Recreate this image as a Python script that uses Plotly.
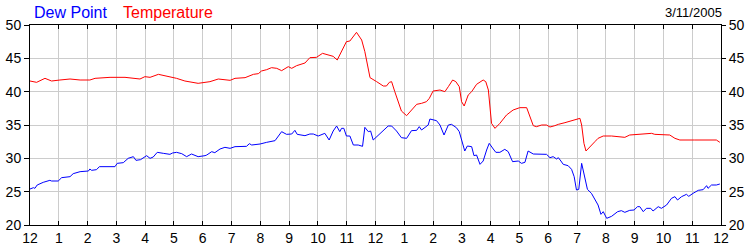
import plotly.graph_objects as go

tick_hours = list(range(25))
tick_labels = ["12", "1", "2", "3", "4", "5", "6", "7", "8", "9", "10", "11",
               "12", "1", "2", "3", "4", "5", "6", "7", "8", "9", "10", "11", "12"]

temp_hours = [0.00, 0.23, 0.52, 0.75, 1.04, 1.39, 1.74, 2.08, 2.26, 2.78, 3.30, 3.70, 3.82, 3.99,
              4.17, 4.46, 4.75, 5.09, 5.38, 5.84, 6.25, 6.54, 6.95, 7.12, 7.47, 7.76, 7.93, 8.04,
              8.22, 8.39, 8.57, 8.74, 8.97, 9.09, 9.26, 9.55, 9.72, 9.95, 10.16, 10.36, 10.53,
              10.67, 10.82, 10.99, 11.11, 11.34, 11.52, 11.63, 11.81, 11.92, 12.04, 12.27, 12.38,
              12.48, 12.56, 12.67, 12.79, 12.90, 13.08, 13.25, 13.43, 13.60, 13.77, 13.87, 14.00,
              14.24, 14.41, 14.53, 14.68, 14.79, 14.91, 14.99, 15.08, 15.22, 15.34, 15.51, 15.74,
              15.83, 15.92, 16.03, 16.15, 16.32, 16.55, 16.78, 17.01, 17.25, 17.36, 17.48, 17.59,
              17.77, 17.94, 18.06, 18.23, 18.35, 18.58, 18.81, 19.04, 19.10, 19.16, 19.24, 19.31,
              19.44, 19.62, 19.73, 19.91, 20.20, 20.43, 20.66, 20.83, 21.06, 21.35, 21.59, 21.70,
              21.93, 22.22, 22.40, 22.57, 23.09, 23.67, 23.84, 23.96]
temp_values = [41.6, 41.4, 42.0, 41.6, 41.75, 41.9, 41.75, 41.75, 42.0, 42.15, 42.15, 41.9, 41.9, 42.25,
               42.15, 42.6, 42.35, 42.0, 41.6, 41.25, 41.5, 41.9, 41.7, 42.0, 42.1, 42.6, 42.7, 43.1,
               43.3, 43.6, 43.5, 43.15, 43.75, 43.5, 43.9, 44.3, 45.1, 45.15, 45.75, 45.5, 45.3,
               44.75, 46.0, 47.5, 47.6, 48.9, 47.75, 46.0, 42.1, 41.85, 41.5, 40.85, 40.85,
               41.4, 41.5, 40.0, 38.6, 37.1, 36.4, 37.25, 38.1, 38.25, 38.5, 39.0, 40.1,
               40.25, 40.0, 40.75, 41.75, 41.5, 40.75, 38.5, 37.85, 39.5, 40.0, 41.1, 41.75,
               41.5, 40.25, 35.25, 34.5, 35.25, 36.5, 37.25, 37.6, 37.6, 36.25, 34.9, 34.75,
               35.0, 35.0, 34.7, 34.9, 35.1, 35.35, 35.6, 35.85, 36.0, 35.0, 32.25, 31.1,
               31.75, 32.5, 33.0, 33.35, 33.35, 33.25, 33.15, 33.5, 33.6, 33.75, 33.75, 33.6,
               33.6, 33.5, 33.0, 32.75, 32.75, 32.75, 32.75, 32.4]

dew_hours = [0.00, 0.12, 0.17, 0.25, 0.46, 0.69, 0.75, 0.98, 1.10, 1.39, 1.50, 1.74, 2.03, 2.08,
             2.14, 2.31, 2.41, 2.95, 3.03, 3.24, 3.41, 3.59, 3.68, 3.84, 4.05, 4.17, 4.28, 4.42,
             4.63, 4.86, 4.95, 5.09, 5.27, 5.44, 5.61, 5.84, 6.08, 6.14, 6.31, 6.42, 6.60, 6.77,
             6.95, 7.12, 7.52, 7.62, 7.70, 7.99, 8.22, 8.51, 8.74, 8.91, 9.09, 9.20, 9.28, 9.55,
             9.72, 9.84, 10.01, 10.24, 10.39, 10.53, 10.65, 10.76, 10.82, 10.90, 10.99, 11.11,
             11.23, 11.40, 11.55, 11.63, 11.75, 11.83, 11.92, 12.10, 12.27, 12.44, 12.56, 12.73,
             12.90, 13.08, 13.25, 13.43, 13.52, 13.60, 13.83, 13.89, 14.12, 14.24, 14.38, 14.53,
             14.64, 14.81, 14.91, 15.02, 15.10, 15.19, 15.34, 15.42, 15.51, 15.63, 15.74, 15.86,
             15.95, 16.09, 16.18, 16.32, 16.49, 16.61, 16.76, 16.96, 17.07, 17.19, 17.30, 17.48,
             17.71, 17.94, 18.06, 18.17, 18.29, 18.35, 18.44, 18.52, 18.69, 18.81, 18.90, 18.98,
             19.06, 19.16, 19.25, 19.36, 19.50, 19.62, 19.73, 19.83, 19.91, 20.03, 20.20, 20.41,
             20.54, 20.66, 20.83, 20.98, 21.10, 21.18, 21.30, 21.41, 21.56, 21.64, 21.82, 21.93,
             22.11, 22.28, 22.40, 22.49, 22.63, 22.80, 22.88, 23.03, 23.21, 23.38, 23.50, 23.55,
             23.67, 23.84, 23.96]
dew_values = [25.4, 25.6, 25.5, 26.0, 26.4, 26.7, 26.6, 26.6, 27.1, 27.25, 27.7, 28.0, 28.1, 28.4,
              28.2, 28.3, 28.75, 28.75, 29.25, 29.35, 30.0, 30.25, 29.7, 29.8, 30.4, 30.0, 30.2, 30.9,
              30.75, 30.6, 30.8, 30.9, 30.7, 30.25, 30.65, 30.25, 30.4, 30.5, 31.0, 30.85, 31.4, 31.65,
              31.5, 31.75, 31.8, 32.2, 32.0, 32.15, 32.4, 32.65, 34.0, 33.6, 33.65, 34.2, 33.6, 33.4,
              33.65, 33.65, 33.35, 33.75, 32.75, 34.1, 34.85, 34.0, 34.5, 34.5, 33.35, 33.35,
              32.0, 32.0, 31.8, 34.65, 34.0, 34.1, 32.75, 33.5, 34.1, 34.85, 34.85, 34.1,
              33.1, 33.0, 34.15, 34.2, 34.75, 34.25, 35.0, 35.9, 35.65, 35.0, 33.5, 35.0,
              35.1, 34.6, 34.0, 32.25, 31.1, 31.85, 31.75, 30.4, 30.5, 29.1, 29.6, 31.25,
              32.25, 31.4, 30.9, 30.9, 31.35, 31.0, 29.5, 29.6, 29.25, 29.4, 31.1, 30.65,
              30.6, 30.6, 30.1, 30.25, 29.9, 30.1, 29.6, 29.1, 28.9, 28.35, 27.25, 25.25,
              25.35, 29.25, 27.5, 25.35, 24.75, 23.75, 23.0, 21.6, 22.0, 21.0, 21.3, 22.0,
              22.15, 21.9, 22.2, 22.25, 22.75, 22.75, 22.0, 22.5, 22.5, 22.1, 22.75, 22.5,
              23.0, 24.0, 24.25, 23.75, 24.25, 24.6, 24.3, 24.75, 25.2, 25.3, 25.9, 25.5,
              26.0, 26.0, 26.15]

y_ticks = [20, 25, 30, 35, 40, 45, 50]
title_date = "3/11/2005"

FONT = "Liberation Sans, Arial, sans-serif"
GRID = "#cccccc"

fig = go.Figure()
fig.add_trace(go.Scatter(x=dew_hours, y=dew_values, mode="lines", name="Dew Point",
                         line=dict(color="#0000ff", width=1), yaxis="y"))
fig.add_trace(go.Scatter(x=temp_hours, y=temp_values, mode="lines", name="Temperature",
                         line=dict(color="#ff0000", width=1), yaxis="y2"))

fig.update_layout(
    width=750, height=250,
    margin=dict(l=30, r=29, t=25, b=25, autoexpand=False),
    paper_bgcolor="white", plot_bgcolor="white",
    showlegend=False,
    font=dict(family=FONT, size=13, color="black"),
    xaxis=dict(range=[0, 24], tickmode="array", tickvals=tick_hours, ticktext=tick_labels,
               ticks="inside", ticklen=4, tickcolor="black", mirror="ticks",
               showline=True, linecolor="black", linewidth=1,
               showgrid=True, gridcolor=GRID, gridwidth=1, zeroline=False,
               automargin=False,
               tickfont=dict(family=FONT, size=14, color="black")),
    yaxis=dict(range=[20, 50], tickmode="array", tickvals=y_ticks,
               ticks="outside", ticklen=5, tickcolor="black", mirror=True,
               showline=True, linecolor="black", linewidth=1,
               showgrid=True, gridcolor=GRID, gridwidth=1, zeroline=False,
               automargin=False,
               tickfont=dict(family=FONT, size=14, color="black")),
    yaxis2=dict(range=[20, 50], tickmode="array", tickvals=y_ticks, overlaying="y", side="right",
                ticks="outside", ticklen=4, tickcolor="black",
                showline=True, linecolor="black", linewidth=1,
                showgrid=False, zeroline=False, automargin=False,
                tickfont=dict(family=FONT, size=14, color="black")),
    annotations=[
        dict(text="Dew Point", x=(32 - 30) / 691, y=(225 - 12) / 200, xref="paper", yref="paper",
             xanchor="left", yanchor="middle", showarrow=False,
             font=dict(family=FONT, size=16, color="#0000ff")),
        dict(text="Temperature", x=(121 - 30) / 691, y=(225 - 12) / 200, xref="paper", yref="paper",
             xanchor="left", yanchor="middle", showarrow=False,
             font=dict(family=FONT, size=16, color="#ff0000")),
        dict(text=title_date, x=(724 - 30) / 691, y=(225 - 12) / 200, xref="paper", yref="paper",
             xanchor="right", yanchor="middle", showarrow=False,
             font=dict(family=FONT, size=13, color="black")),
    ],
)

fig.write_html("out.html")
